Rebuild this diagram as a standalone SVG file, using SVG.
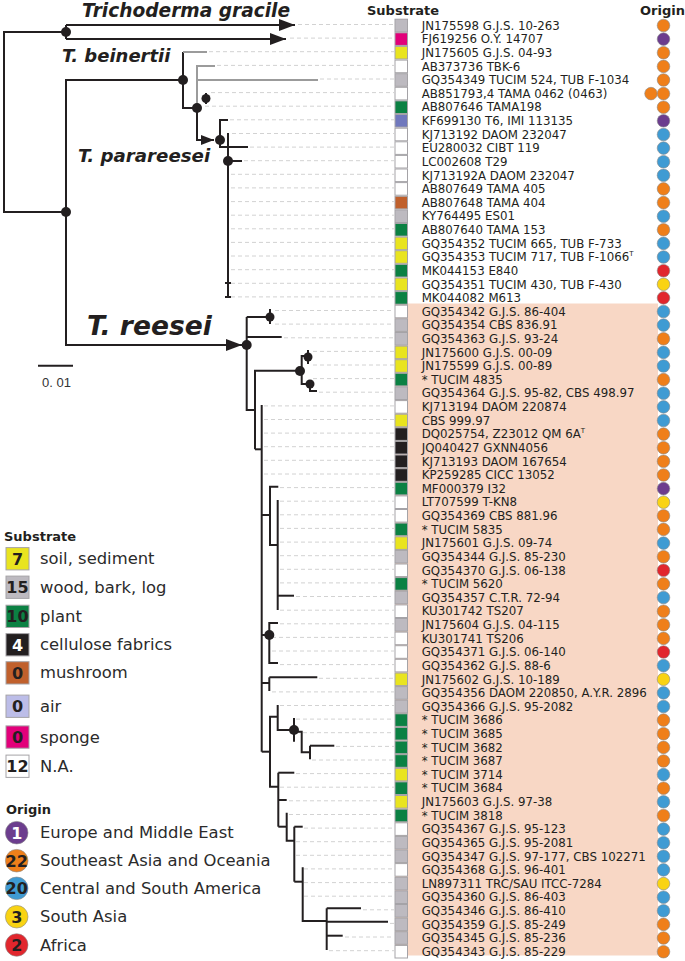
<svg xmlns="http://www.w3.org/2000/svg" width="685" height="961" viewBox="0 0 685 961">
<style>
.t{font-family:"DejaVu Sans",Verdana,sans-serif;font-size:11.8px;fill:#231f20}
.hd{font-family:"DejaVu Sans",Verdana,sans-serif;font-size:13px;font-weight:bold;fill:#231f20}
.lg{font-family:"DejaVu Sans",Verdana,sans-serif;font-size:16.4px;fill:#2b2b2b}
.ln{font-family:"DejaVu Sans",Verdana,sans-serif;font-size:16px;font-weight:bold;fill:#231f20;text-anchor:middle}
.sp{font-family:"DejaVu Sans",Verdana,sans-serif;font-weight:bold;font-style:italic;fill:#231f20}
.br{stroke:#231f20;stroke-width:2;fill:none}
.gr{stroke:#9b9b9b;stroke-width:2;fill:none}
.ds{stroke:#d2d2d2;stroke-width:1;stroke-dasharray:4 3}
.dot{fill:#231f20}
.bx{stroke:#a5a3a7;stroke-width:1}
.oc{stroke:#8a8a8a;stroke-width:0.6}
.sW{fill:#ffffff}.sG{fill:#bdbac0}.sM{fill:#e2007a}.sY{fill:#e9e41f}.sN{fill:#0b8143}.sA{fill:#7078bd}.sL{fill:#bcbde8}.sB{fill:#c0602c}.sK{fill:#231f20}
.oO{fill:#ef7f1a}.oP{fill:#6c3d8e}.oB{fill:#3f9bd3}.oY{fill:#f9d313}.oR{fill:#e1262d}
</style>
<defs>
<marker id="arr" markerUnits="userSpaceOnUse" markerWidth="16" markerHeight="12" viewBox="0 0 16 12" refX="16" refY="6" orient="auto"><path d="M0,0 L16,6 L0,12 z" fill="#231f20"/></marker>
<marker id="arrs" markerUnits="userSpaceOnUse" markerWidth="13" markerHeight="10" viewBox="0 0 13 10" refX="13" refY="5" orient="auto"><path d="M0,0 L13,5 L0,10 z" fill="#231f20"/></marker>
</defs>
<rect x="0" y="0" width="685" height="961" fill="#ffffff"/>
<rect id="reesei-band" x="395" y="303.5" width="263" height="652" fill="#f8d7c5"/>

<g id="connectors">
<g id="dashes">
<line class="ds" x1="298" y1="24.5" x2="394" y2="24.5"/>
<line class="ds" x1="290" y1="38.1" x2="394" y2="38.1"/>
<line class="ds" x1="209" y1="51.7" x2="394" y2="51.7"/>
<line class="ds" x1="217" y1="65.4" x2="394" y2="65.4"/>
<line class="ds" x1="320" y1="79" x2="394" y2="79"/>
<line class="ds" x1="211" y1="92.6" x2="394" y2="92.6"/>
<line class="ds" x1="205" y1="106.2" x2="394" y2="106.2"/>
<line class="ds" x1="230" y1="119.8" x2="394" y2="119.8"/>
<line class="ds" x1="232" y1="133.5" x2="394" y2="133.5"/>
<line class="ds" x1="250" y1="147.1" x2="394" y2="147.1"/>
<line class="ds" x1="244" y1="160.7" x2="394" y2="160.7"/>
<line class="ds" x1="231" y1="174.3" x2="394" y2="174.3"/>
<line class="ds" x1="231" y1="187.9" x2="394" y2="187.9"/>
<line class="ds" x1="231" y1="201.6" x2="394" y2="201.6"/>
<line class="ds" x1="231" y1="215.2" x2="394" y2="215.2"/>
<line class="ds" x1="231" y1="228.8" x2="394" y2="228.8"/>
<line class="ds" x1="231" y1="242.4" x2="394" y2="242.4"/>
<line class="ds" x1="231" y1="256" x2="394" y2="256"/>
<line class="ds" x1="231" y1="269.7" x2="394" y2="269.7"/>
<line class="ds" x1="231" y1="283.3" x2="394" y2="283.3"/>
<line class="ds" x1="231" y1="296.9" x2="394" y2="296.9"/>
<line class="ds" x1="275" y1="310.5" x2="394" y2="310.5"/>
<line class="ds" x1="275" y1="324.1" x2="394" y2="324.1"/>
<line class="ds" x1="284" y1="337.8" x2="394" y2="337.8"/>
<line class="ds" x1="313" y1="351.4" x2="394" y2="351.4"/>
<line class="ds" x1="313" y1="365" x2="394" y2="365"/>
<line class="ds" x1="313" y1="378.6" x2="394" y2="378.6"/>
<line class="ds" x1="319" y1="392.2" x2="394" y2="392.2"/>
<line class="ds" x1="264" y1="405.9" x2="394" y2="405.9"/>
<line class="ds" x1="264" y1="419.5" x2="394" y2="419.5"/>
<line class="ds" x1="264" y1="433.1" x2="394" y2="433.1"/>
<line class="ds" x1="264" y1="446.7" x2="394" y2="446.7"/>
<line class="ds" x1="264" y1="460.3" x2="394" y2="460.3"/>
<line class="ds" x1="264" y1="474" x2="394" y2="474"/>
<line class="ds" x1="280" y1="487.6" x2="394" y2="487.6"/>
<line class="ds" x1="280" y1="501.2" x2="394" y2="501.2"/>
<line class="ds" x1="280" y1="514.8" x2="394" y2="514.8"/>
<line class="ds" x1="280" y1="528.4" x2="394" y2="528.4"/>
<line class="ds" x1="280" y1="542.1" x2="394" y2="542.1"/>
<line class="ds" x1="280" y1="555.7" x2="394" y2="555.7"/>
<line class="ds" x1="280" y1="569.3" x2="394" y2="569.3"/>
<line class="ds" x1="280" y1="582.9" x2="394" y2="582.9"/>
<line class="ds" x1="296" y1="596.5" x2="394" y2="596.5"/>
<line class="ds" x1="280" y1="610.2" x2="394" y2="610.2"/>
<line class="ds" x1="280" y1="623.8" x2="394" y2="623.8"/>
<line class="ds" x1="272" y1="637.4" x2="394" y2="637.4"/>
<line class="ds" x1="272" y1="651" x2="394" y2="651"/>
<line class="ds" x1="280" y1="664.6" x2="394" y2="664.6"/>
<line class="ds" x1="319" y1="678.3" x2="394" y2="678.3"/>
<line class="ds" x1="272" y1="691.9" x2="394" y2="691.9"/>
<line class="ds" x1="280" y1="705.5" x2="394" y2="705.5"/>
<line class="ds" x1="296" y1="719.1" x2="394" y2="719.1"/>
<line class="ds" x1="296" y1="732.7" x2="394" y2="732.7"/>
<line class="ds" x1="336" y1="746.4" x2="394" y2="746.4"/>
<line class="ds" x1="312" y1="760" x2="394" y2="760"/>
<line class="ds" x1="296" y1="773.6" x2="394" y2="773.6"/>
<line class="ds" x1="280" y1="787.2" x2="394" y2="787.2"/>
<line class="ds" x1="289" y1="800.8" x2="394" y2="800.8"/>
<line class="ds" x1="289" y1="814.5" x2="394" y2="814.5"/>
<line class="ds" x1="304" y1="828.1" x2="394" y2="828.1"/>
<line class="ds" x1="296" y1="841.7" x2="394" y2="841.7"/>
<line class="ds" x1="296" y1="855.3" x2="394" y2="855.3"/>
<line class="ds" x1="304" y1="868.9" x2="394" y2="868.9"/>
<line class="ds" x1="304" y1="882.6" x2="394" y2="882.6"/>
<line class="ds" x1="304" y1="896.2" x2="394" y2="896.2"/>
<line class="ds" x1="363" y1="909.8" x2="394" y2="909.8"/>
<line class="ds" x1="390" y1="923.4" x2="394" y2="923.4"/>
<line class="ds" x1="345" y1="937" x2="394" y2="937"/>
<line class="ds" x1="329" y1="950.7" x2="394" y2="950.7"/>
</g>
<g id="branches">
<path class="br" d="M66,32 H4 V212 H66"/>
<path class="br" d="M66,25 V39"/>
<path class="br" d="M66,25 H295" marker-end="url(#arr)"/>
<path class="br" d="M66,39 H286" marker-end="url(#arr)"/>
<path class="br" d="M183,80 H66 V345 H242" marker-end="url(#arr)"/>
<path class="br" d="M183,52 V108 H197"/>
<path class="gr" d="M183,52 H207"/>
<path class="gr" d="M197,108 V66 H215"/>
<path class="gr" d="M197,80 H318"/>
<path class="br" d="M206,93 V104"/>
<path class="br" d="M197,108 V140 H214" marker-end="url(#arrs)"/>
<path class="br" d="M228,120 H220 V147 H228"/>
<path class="br" d="M228,133 V297"/>
<path class="br" d="M228,147 H248"/>
<path class="br" d="M228,161 H242"/>
<path class="br" d="M225,283 H231 M225,297 H231"/>
<path class="br" d="M246.7,317 V410 H255"/>
<path class="br" d="M246.7,317 H270"/>
<path class="br" d="M270,309 V324"/>
<path class="br" d="M246.7,337 H281.7"/>
<path class="br" d="M255,449.3 V370.7 H300"/>
<path class="br" d="M308,356 H301.7 V384 H310"/>
<path class="br" d="M308,350 V364"/>
<path class="br" d="M310,380 V391 H317"/>
<path class="br" d="M255,449.3 H261.7"/>
<path class="br" d="M261.7,405 V751.7"/>
<path class="br" d="M261.7,515 H270"/>
<path class="br" d="M278.3,486.7 H270 V545 H277.7"/>
<path class="br" d="M277.7,500 V610"/>
<path class="br" d="M277.7,595.7 H294"/>
<path class="br" d="M261.7,635 H269.3"/>
<path class="br" d="M278,623 H269.3 V663 H278"/>
<path class="br" d="M261.7,683 H269.3"/>
<path class="br" d="M269.3,677.3 H317.3"/>
<path class="br" d="M269.3,677.3 V691"/>
<path class="br" d="M261.7,751.7 H270"/>
<path class="br" d="M277.7,716.7 H270 V786.7 H278.3"/>
<path class="br" d="M277.7,705 V730 H294"/>
<path class="br" d="M294,718 V741.7"/>
<path class="br" d="M294,731.7 H301.7 V752.3 H310"/>
<path class="br" d="M310,745.7 V759.3"/>
<path class="br" d="M310,745.7 H334.3"/>
<path class="br" d="M278.3,772.7 V826.7"/>
<path class="br" d="M278.3,772.7 H294.3"/>
<path class="br" d="M278.3,800 H286.7"/>
<path class="br" d="M278.3,826.7 H286.7"/>
<path class="br" d="M286.7,812.7 V840.7 H294.3"/>
<path class="br" d="M294.3,826.7 V881.7"/>
<path class="br" d="M294.3,826.7 H302.7"/>
<path class="br" d="M294.3,881.7 H302.7"/>
<path class="br" d="M302.7,867.3 V921 H326.7"/>
<path class="br" d="M326.7,908.3 V950"/>
<path class="br" d="M326.7,908.3 H361"/>
<path class="br" d="M326.7,921.7 H388"/>
<path class="br" d="M326.7,935.7 H342.7"/>
</g>
<g id="nodes-support">
<circle class="dot" cx="66" cy="32" r="5"/>
<circle class="dot" cx="66" cy="212" r="5"/>
<circle class="dot" cx="183" cy="80" r="5"/>
<circle class="dot" cx="197" cy="108" r="5"/>
<circle class="dot" cx="206" cy="98.5" r="4.5"/>
<circle class="dot" cx="220" cy="140" r="5"/>
<circle class="dot" cx="228" cy="161" r="5"/>
<circle class="dot" cx="246.7" cy="345" r="5"/>
<circle class="dot" cx="270" cy="317" r="4.5"/>
<circle class="dot" cx="300" cy="371" r="5"/>
<circle class="dot" cx="308" cy="357" r="4.5"/>
<circle class="dot" cx="310" cy="384" r="4.5"/>
<circle class="dot" cx="269.3" cy="635" r="5"/>
<circle class="dot" cx="294" cy="730" r="5"/>
</g>
</g>

<g id="clade-labels">
<text class="sp" x="82" y="17" font-size="18.6">Trichoderma gracile</text>
<text class="sp" x="62" y="62" font-size="18">T. beinertii</text>
<text class="sp" x="78" y="162" font-size="18.2">T. parareesei</text>
<text class="sp" x="87" y="335" font-size="26.5">T. reesei</text>
</g>

<g id="scale-bar">
<line x1="38" y1="365.7" x2="73" y2="365.7" stroke="#231f20" stroke-width="2"/>
<text x="42" y="387" font-family="Liberation Sans, Arial, sans-serif" font-size="13" fill="#333">0. 01</text>
</g>

<g id="headers">
<text class="hd" x="367" y="14.5">Substrate</text>
<text class="hd" x="640" y="14.5">Origin</text>
</g>

<g id="leaves">
<g id="r0"><rect class="bx sG" x="395" y="19.2" width="12.5" height="12.6"/><text class="t" x="421.7" y="29.7">JN175598 G.J.S. 10-263</text><circle class="oc oO" cx="663.5" cy="25.5" r="6.3"/></g>
<g id="r1"><rect class="bx sM" x="395" y="32.8" width="12.5" height="12.6"/><text class="t" x="421.7" y="43.3">FJ619256 O.Y. 14707</text><circle class="oc oP" cx="663.5" cy="39.1" r="6.3"/></g>
<g id="r2"><rect class="bx sY" x="395" y="46.4" width="12.5" height="12.6"/><text class="t" x="421.7" y="56.9">JN175605 G.J.S. 04-93</text><circle class="oc oO" cx="663.5" cy="52.7" r="6.3"/></g>
<g id="r3"><rect class="bx sW" x="395" y="60.1" width="12.5" height="12.6"/><text class="t" x="421.7" y="70.6">AB373736 TBK-6</text><circle class="oc oO" cx="663.5" cy="66.4" r="6.3"/></g>
<g id="r4"><rect class="bx sG" x="395" y="73.7" width="12.5" height="12.6"/><text class="t" x="421.7" y="84.2">GQ354349 TUCIM 524, TUB F-1034</text><circle class="oc oO" cx="663.5" cy="80" r="6.3"/></g>
<g id="r5"><rect class="bx sW" x="395" y="87.3" width="12.5" height="12.6"/><text class="t" x="421.7" y="97.8">AB851793,4 TAMA 0462 (0463)</text><circle class="oc oO" cx="651" cy="93.6" r="6.3"/><circle class="oc oO" cx="663.5" cy="93.6" r="6.3"/></g>
<g id="r6"><rect class="bx sN" x="395" y="100.9" width="12.5" height="12.6"/><text class="t" x="421.7" y="111.4">AB807646 TAMA198</text><circle class="oc oO" cx="663.5" cy="107.2" r="6.3"/></g>
<g id="r7"><rect class="bx sA" x="395" y="114.5" width="12.5" height="12.6"/><text class="t" x="421.7" y="125">KF699130 T6, IMI 113135</text><circle class="oc oP" cx="663.5" cy="120.8" r="6.3"/></g>
<g id="r8"><rect class="bx sW" x="395" y="128.2" width="12.5" height="12.6"/><text class="t" x="421.7" y="138.7">KJ713192 DAOM 232047</text><circle class="oc oB" cx="663.5" cy="134.5" r="6.3"/></g>
<g id="r9"><rect class="bx sW" x="395" y="141.8" width="12.5" height="12.6"/><text class="t" x="421.7" y="152.3">EU280032 CIBT 119</text><circle class="oc oB" cx="663.5" cy="148.1" r="6.3"/></g>
<g id="r10"><rect class="bx sW" x="395" y="155.4" width="12.5" height="12.6"/><text class="t" x="421.7" y="165.9">LC002608 T29</text><circle class="oc oB" cx="663.5" cy="161.7" r="6.3"/></g>
<g id="r11"><rect class="bx sW" x="395" y="169" width="12.5" height="12.6"/><text class="t" x="421.7" y="179.5">KJ713192A DAOM 232047</text><circle class="oc oB" cx="663.5" cy="175.3" r="6.3"/></g>
<g id="r12"><rect class="bx sW" x="395" y="182.6" width="12.5" height="12.6"/><text class="t" x="421.7" y="193.1">AB807649 TAMA 405</text><circle class="oc oO" cx="663.5" cy="188.9" r="6.3"/></g>
<g id="r13"><rect class="bx sB" x="395" y="196.3" width="12.5" height="12.6"/><text class="t" x="421.7" y="206.8">AB807648 TAMA 404</text><circle class="oc oO" cx="663.5" cy="202.6" r="6.3"/></g>
<g id="r14"><rect class="bx sG" x="395" y="209.9" width="12.5" height="12.6"/><text class="t" x="421.7" y="220.4">KY764495 ES01</text><circle class="oc oB" cx="663.5" cy="216.2" r="6.3"/></g>
<g id="r15"><rect class="bx sN" x="395" y="223.5" width="12.5" height="12.6"/><text class="t" x="421.7" y="234">AB807640 TAMA 153</text><circle class="oc oO" cx="663.5" cy="229.8" r="6.3"/></g>
<g id="r16"><rect class="bx sY" x="395" y="237.1" width="12.5" height="12.6"/><text class="t" x="421.7" y="247.6">GQ354352 TUCIM 665, TUB F-733</text><circle class="oc oB" cx="663.5" cy="243.4" r="6.3"/></g>
<g id="r17"><rect class="bx sY" x="395" y="250.7" width="12.5" height="12.6"/><text class="t" x="421.7" y="261.2">GQ354353 TUCIM 717, TUB F-1066<tspan font-size="7" dy="-5">T</tspan></text><circle class="oc oB" cx="663.5" cy="257" r="6.3"/></g>
<g id="r18"><rect class="bx sN" x="395" y="264.4" width="12.5" height="12.6"/><text class="t" x="421.7" y="274.9">MK044153 E840</text><circle class="oc oR" cx="663.5" cy="270.7" r="6.3"/></g>
<g id="r19"><rect class="bx sY" x="395" y="278" width="12.5" height="12.6"/><text class="t" x="421.7" y="288.5">GQ354351 TUCIM 430, TUB F-430</text><circle class="oc oY" cx="663.5" cy="284.3" r="6.3"/></g>
<g id="r20"><rect class="bx sN" x="395" y="291.6" width="12.5" height="12.6"/><text class="t" x="421.7" y="302.1">MK044082 M613</text><circle class="oc oR" cx="663.5" cy="297.9" r="6.3"/></g>
<g id="r21"><rect class="bx sW" x="395" y="305.2" width="12.5" height="12.6"/><text class="t" x="421.7" y="315.7">GQ354342 G.J.S. 86-404</text><circle class="oc oB" cx="663.5" cy="311.5" r="6.3"/></g>
<g id="r22"><rect class="bx sG" x="395" y="318.8" width="12.5" height="12.6"/><text class="t" x="421.7" y="329.3">GQ354354 CBS 836.91</text><circle class="oc oB" cx="663.5" cy="325.1" r="6.3"/></g>
<g id="r23"><rect class="bx sG" x="395" y="332.5" width="12.5" height="12.6"/><text class="t" x="421.7" y="343">GQ354363 G.J.S. 93-24</text><circle class="oc oO" cx="663.5" cy="338.8" r="6.3"/></g>
<g id="r24"><rect class="bx sY" x="395" y="346.1" width="12.5" height="12.6"/><text class="t" x="421.7" y="356.6">JN175600 G.J.S. 00-09</text><circle class="oc oB" cx="663.5" cy="352.4" r="6.3"/></g>
<g id="r25"><rect class="bx sY" x="395" y="359.7" width="12.5" height="12.6"/><text class="t" x="421.7" y="370.2">JN175599 G.J.S. 00-89</text><circle class="oc oB" cx="663.5" cy="366" r="6.3"/></g>
<g id="r26"><rect class="bx sN" x="395" y="373.3" width="12.5" height="12.6"/><text class="t" x="421.7" y="383.8">* TUCIM 4835</text><circle class="oc oO" cx="663.5" cy="379.6" r="6.3"/></g>
<g id="r27"><rect class="bx sG" x="395" y="386.9" width="12.5" height="12.6"/><text class="t" x="421.7" y="397.4">GQ354364 G.J.S. 95-82, CBS 498.97</text><circle class="oc oB" cx="663.5" cy="393.2" r="6.3"/></g>
<g id="r28"><rect class="bx sW" x="395" y="400.6" width="12.5" height="12.6"/><text class="t" x="421.7" y="411.1">KJ713194 DAOM 220874</text><circle class="oc oB" cx="663.5" cy="406.9" r="6.3"/></g>
<g id="r29"><rect class="bx sY" x="395" y="414.2" width="12.5" height="12.6"/><text class="t" x="421.7" y="424.7">CBS 999.97</text><circle class="oc oB" cx="663.5" cy="420.5" r="6.3"/></g>
<g id="r30"><rect class="bx sK" x="395" y="427.8" width="12.5" height="12.6"/><text class="t" x="421.7" y="438.3">DQ025754, Z23012 QM 6A<tspan font-size="7" dy="-5">T</tspan></text><circle class="oc oO" cx="663.5" cy="434.1" r="6.3"/></g>
<g id="r31"><rect class="bx sK" x="395" y="441.4" width="12.5" height="12.6"/><text class="t" x="421.7" y="451.9">JQ040427 GXNN4056</text><circle class="oc oO" cx="663.5" cy="447.7" r="6.3"/></g>
<g id="r32"><rect class="bx sK" x="395" y="455" width="12.5" height="12.6"/><text class="t" x="421.7" y="465.5">KJ713193 DAOM 167654</text><circle class="oc oO" cx="663.5" cy="461.3" r="6.3"/></g>
<g id="r33"><rect class="bx sK" x="395" y="468.7" width="12.5" height="12.6"/><text class="t" x="421.7" y="479.2">KP259285 CICC 13052</text><circle class="oc oO" cx="663.5" cy="475" r="6.3"/></g>
<g id="r34"><rect class="bx sN" x="395" y="482.3" width="12.5" height="12.6"/><text class="t" x="421.7" y="492.8">MF000379 I32</text><circle class="oc oP" cx="663.5" cy="488.6" r="6.3"/></g>
<g id="r35"><rect class="bx sW" x="395" y="495.9" width="12.5" height="12.6"/><text class="t" x="421.7" y="506.4">LT707599 T-KN8</text><circle class="oc oY" cx="663.5" cy="502.2" r="6.3"/></g>
<g id="r36"><rect class="bx sW" x="395" y="509.5" width="12.5" height="12.6"/><text class="t" x="421.7" y="520">GQ354369 CBS 881.96</text><circle class="oc oO" cx="663.5" cy="515.8" r="6.3"/></g>
<g id="r37"><rect class="bx sN" x="395" y="523.1" width="12.5" height="12.6"/><text class="t" x="421.7" y="533.6">* TUCIM 5835</text><circle class="oc oO" cx="663.5" cy="529.4" r="6.3"/></g>
<g id="r38"><rect class="bx sY" x="395" y="536.8" width="12.5" height="12.6"/><text class="t" x="421.7" y="547.3">JN175601 G.J.S. 09-74</text><circle class="oc oB" cx="663.5" cy="543.1" r="6.3"/></g>
<g id="r39"><rect class="bx sG" x="395" y="550.4" width="12.5" height="12.6"/><text class="t" x="421.7" y="560.9">GQ354344 G.J.S. 85-230</text><circle class="oc oO" cx="663.5" cy="556.7" r="6.3"/></g>
<g id="r40"><rect class="bx sW" x="395" y="564" width="12.5" height="12.6"/><text class="t" x="421.7" y="574.5">GQ354370 G.J.S. 06-138</text><circle class="oc oR" cx="663.5" cy="570.3" r="6.3"/></g>
<g id="r41"><rect class="bx sN" x="395" y="577.6" width="12.5" height="12.6"/><text class="t" x="421.7" y="588.1">* TUCIM 5620</text><circle class="oc oO" cx="663.5" cy="583.9" r="6.3"/></g>
<g id="r42"><rect class="bx sG" x="395" y="591.2" width="12.5" height="12.6"/><text class="t" x="421.7" y="601.7">GQ354357 C.T.R. 72-94</text><circle class="oc oB" cx="663.5" cy="597.5" r="6.3"/></g>
<g id="r43"><rect class="bx sW" x="395" y="604.9" width="12.5" height="12.6"/><text class="t" x="421.7" y="615.4">KU301742 TS207</text><circle class="oc oO" cx="663.5" cy="611.2" r="6.3"/></g>
<g id="r44"><rect class="bx sG" x="395" y="618.5" width="12.5" height="12.6"/><text class="t" x="421.7" y="629">JN175604 G.J.S. 04-115</text><circle class="oc oO" cx="663.5" cy="624.8" r="6.3"/></g>
<g id="r45"><rect class="bx sW" x="395" y="632.1" width="12.5" height="12.6"/><text class="t" x="421.7" y="642.6">KU301741 TS206</text><circle class="oc oO" cx="663.5" cy="638.4" r="6.3"/></g>
<g id="r46"><rect class="bx sW" x="395" y="645.7" width="12.5" height="12.6"/><text class="t" x="421.7" y="656.2">GQ354371 G.J.S. 06-140</text><circle class="oc oR" cx="663.5" cy="652" r="6.3"/></g>
<g id="r47"><rect class="bx sW" x="395" y="659.3" width="12.5" height="12.6"/><text class="t" x="421.7" y="669.8">GQ354362 G.J.S. 88-6</text><circle class="oc oB" cx="663.5" cy="665.6" r="6.3"/></g>
<g id="r48"><rect class="bx sY" x="395" y="673" width="12.5" height="12.6"/><text class="t" x="421.7" y="683.5">JN175602 G.J.S. 10-189</text><circle class="oc oY" cx="663.5" cy="679.3" r="6.3"/></g>
<g id="r49"><rect class="bx sG" x="395" y="686.6" width="12.5" height="12.6"/><text class="t" x="421.7" y="697.1">GQ354356 DAOM 220850, A.Y.R. 2896</text><circle class="oc oB" cx="663.5" cy="692.9" r="6.3"/></g>
<g id="r50"><rect class="bx sG" x="395" y="700.2" width="12.5" height="12.6"/><text class="t" x="421.7" y="710.7">GQ354366 G.J.S. 95-2082</text><circle class="oc oB" cx="663.5" cy="706.5" r="6.3"/></g>
<g id="r51"><rect class="bx sN" x="395" y="713.8" width="12.5" height="12.6"/><text class="t" x="421.7" y="724.3">* TUCIM 3686</text><circle class="oc oO" cx="663.5" cy="720.1" r="6.3"/></g>
<g id="r52"><rect class="bx sN" x="395" y="727.4" width="12.5" height="12.6"/><text class="t" x="421.7" y="737.9">* TUCIM 3685</text><circle class="oc oO" cx="663.5" cy="733.7" r="6.3"/></g>
<g id="r53"><rect class="bx sN" x="395" y="741.1" width="12.5" height="12.6"/><text class="t" x="421.7" y="751.6">* TUCIM 3682</text><circle class="oc oO" cx="663.5" cy="747.4" r="6.3"/></g>
<g id="r54"><rect class="bx sN" x="395" y="754.7" width="12.5" height="12.6"/><text class="t" x="421.7" y="765.2">* TUCIM 3687</text><circle class="oc oO" cx="663.5" cy="761" r="6.3"/></g>
<g id="r55"><rect class="bx sY" x="395" y="768.3" width="12.5" height="12.6"/><text class="t" x="421.7" y="778.8">* TUCIM 3714</text><circle class="oc oB" cx="663.5" cy="774.6" r="6.3"/></g>
<g id="r56"><rect class="bx sN" x="395" y="781.9" width="12.5" height="12.6"/><text class="t" x="421.7" y="792.4">* TUCIM 3684</text><circle class="oc oO" cx="663.5" cy="788.2" r="6.3"/></g>
<g id="r57"><rect class="bx sY" x="395" y="795.5" width="12.5" height="12.6"/><text class="t" x="421.7" y="806">JN175603 G.J.S. 97-38</text><circle class="oc oB" cx="663.5" cy="801.8" r="6.3"/></g>
<g id="r58"><rect class="bx sN" x="395" y="809.2" width="12.5" height="12.6"/><text class="t" x="421.7" y="819.7">* TUCIM 3818</text><circle class="oc oO" cx="663.5" cy="815.5" r="6.3"/></g>
<g id="r59"><rect class="bx sW" x="395" y="822.8" width="12.5" height="12.6"/><text class="t" x="421.7" y="833.3">GQ354367 G.J.S. 95-123</text><circle class="oc oB" cx="663.5" cy="829.1" r="6.3"/></g>
<g id="r60"><rect class="bx sG" x="395" y="836.4" width="12.5" height="12.6"/><text class="t" x="421.7" y="846.9">GQ354365 G.J.S. 95-2081</text><circle class="oc oB" cx="663.5" cy="842.7" r="6.3"/></g>
<g id="r61"><rect class="bx sG" x="395" y="850" width="12.5" height="12.6"/><text class="t" x="421.7" y="860.5">GQ354347 G.J.S. 97-177, CBS 102271</text><circle class="oc oB" cx="663.5" cy="856.3" r="6.3"/></g>
<g id="r62"><rect class="bx sW" x="395" y="863.6" width="12.5" height="12.6"/><text class="t" x="421.7" y="874.1">GQ354368 G.J.S. 96-401</text><circle class="oc oB" cx="663.5" cy="869.9" r="6.3"/></g>
<g id="r63"><rect class="bx sG" x="395" y="877.3" width="12.5" height="12.6"/><text class="t" x="421.7" y="887.8">LN897311 TRC/SAU ITCC-7284</text><circle class="oc oY" cx="663.5" cy="883.6" r="6.3"/></g>
<g id="r64"><rect class="bx sG" x="395" y="890.9" width="12.5" height="12.6"/><text class="t" x="421.7" y="901.4">GQ354360 G.J.S. 86-403</text><circle class="oc oB" cx="663.5" cy="897.2" r="6.3"/></g>
<g id="r65"><rect class="bx sG" x="395" y="904.5" width="12.5" height="12.6"/><text class="t" x="421.7" y="915">GQ354346 G.J.S. 86-410</text><circle class="oc oB" cx="663.5" cy="910.8" r="6.3"/></g>
<g id="r66"><rect class="bx sG" x="395" y="918.1" width="12.5" height="12.6"/><text class="t" x="421.7" y="928.6">GQ354359 G.J.S. 85-249</text><circle class="oc oO" cx="663.5" cy="924.4" r="6.3"/></g>
<g id="r67"><rect class="bx sG" x="395" y="931.7" width="12.5" height="12.6"/><text class="t" x="421.7" y="942.2">GQ354345 G.J.S. 85-236</text><circle class="oc oO" cx="663.5" cy="938" r="6.3"/></g>
<g id="r68"><rect class="bx sW" x="395" y="945.4" width="12.5" height="12.6"/><text class="t" x="421.7" y="955.9">GQ354343 G.J.S. 85-229</text><circle class="oc oO" cx="663.5" cy="951.7" r="6.3"/></g>
</g>

<g id="legend-substrate">
<text class="hd" x="4" y="540.5">Substrate</text>
<rect class="bx sY" x="6" y="547.6" width="23" height="22.3"/><text class="ln" x="17.5" y="564.7">7</text><text class="lg" x="40" y="564.3">soil, sediment</text>
<rect class="bx sG" x="6" y="576.1" width="23" height="22.3"/><text class="ln" x="17.5" y="593.2">15</text><text class="lg" x="40" y="592.7">wood, bark, log</text>
<rect class="bx sN" x="6" y="605.2" width="23" height="22.3"/><text class="ln" x="17.5" y="622.3">10</text><text class="lg" x="40" y="621.8">plant</text>
<rect class="bx sK" x="6" y="633.6" width="23" height="22.3"/><text class="ln" x="17.5" y="650.7" style="fill:#ffffff">4</text><text class="lg" x="40" y="650.2">cellulose fabrics</text>
<rect class="bx sB" x="6" y="661.7" width="23" height="22.3"/><text class="ln" x="17.5" y="678.8">0</text><text class="lg" x="40" y="678.3">mushroom</text>
<rect class="bx sL" x="6" y="695.1" width="23" height="22.3"/><text class="ln" x="17.5" y="712.2">0</text><text class="lg" x="40" y="711.7">air</text>
<rect class="bx sM" x="6" y="725.9" width="23" height="22.3"/><text class="ln" x="17.5" y="743">0</text><text class="lg" x="40" y="742.5">sponge</text>
<rect class="bx sW" x="6" y="755.1" width="23" height="22.3"/><text class="ln" x="17.5" y="772.2">12</text><text class="lg" x="40" y="771.7">N.A.</text>
</g>

<g id="legend-origin">
<text class="hd" x="6" y="814">Origin</text>
<circle class="oc oP" cx="16.7" cy="832.7" r="11.3"/><text class="ln" x="16.7" y="838.7" style="fill:#ffffff">1</text><text class="lg" x="40" y="838.2">Europe and Middle East</text>
<circle class="oc oO" cx="16.7" cy="860.7" r="11.3"/><text class="ln" x="16.7" y="866.7">22</text><text class="lg" x="40" y="866.2">Southeast Asia and Oceania</text>
<circle class="oc oB" cx="16.7" cy="888.3" r="11.3"/><text class="ln" x="16.7" y="894.3">20</text><text class="lg" x="40" y="893.8">Central and South America</text>
<circle class="oc oY" cx="16.7" cy="916.7" r="11.3"/><text class="ln" x="16.7" y="922.7">3</text><text class="lg" x="40" y="922.2">South Asia</text>
<circle class="oc oR" cx="16.7" cy="945" r="11.3"/><text class="ln" x="16.7" y="951">2</text><text class="lg" x="40" y="950.5">Africa</text>
</g>
</svg>
